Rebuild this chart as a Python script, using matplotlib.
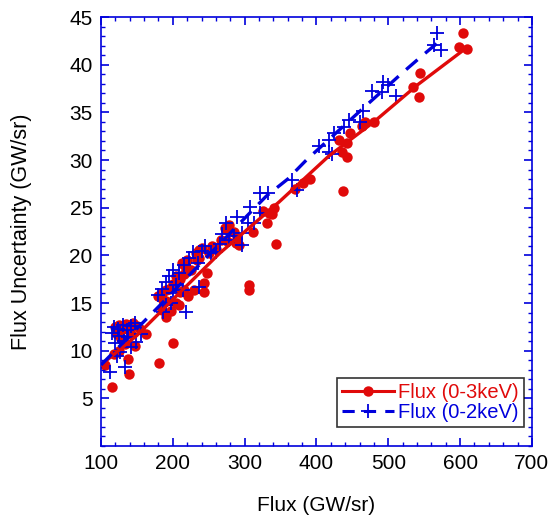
import matplotlib.pyplot as plt
from matplotlib.lines import Line2D

plt.rcParams['font.family'] = ['Liberation Sans', 'DejaVu Sans']

# Flux (0-3keV): flux vs uncertainty, red circles
flux3 = [105, 115, 139, 138, 147, 163, 181, 200,
         120, 125, 130, 135, 140, 145, 150, 122, 128, 133, 125, 118, 142, 155,
         180, 185, 190, 195, 200, 205, 210, 215, 221, 216, 220, 225, 230, 237,
         232, 240, 244, 244, 248, 250, 255, 190, 185, 198, 210, 215,
         237, 234, 213, 205, 191, 186, 209,
         306, 306, 267, 272, 278, 285, 290, 292, 312, 331, 338, 341, 325, 343,
         260, 275, 334, 288, 274, 370,
         381, 391, 432, 436, 442, 443, 447, 463, 467, 480, 437,
         534, 544, 543, 599, 604, 609]
unc3 = [8.5, 6.2, 7.6, 9.1, 10.5, 11.7, 8.7, 10.8,
        12.5, 12.7, 12.3, 12.8, 12.5, 12.9, 12.6, 11.8, 11.2, 10.7, 10.0, 9.6, 11.8, 12.3,
        15.7, 16.0, 15.2, 16.5, 17.0, 15.0, 17.5, 18.0, 15.7, 19.0, 19.5, 18.5, 16.4, 19.7,
        20.2, 20.8, 17.1, 16.2, 18.1, 20.2, 21.0, 13.5, 14.3, 14.2, 16.2, 16.4,
        20.6, 19.5, 19.2, 17.8, 16.4, 15.3, 14.8,
        16.9, 16.4, 21.6, 22.9, 23.2, 22.5, 21.8, 21.1, 22.4, 23.4, 24.3, 25.0, 24.6, 21.2,
        20.7, 21.5, 24.4, 21.3, 22.8, 27.0,
        27.6, 28.0, 32.1, 30.8, 31.8, 30.3, 32.8, 33.6, 34.0, 34.0, 26.7,
        37.7, 39.1, 36.6, 41.9, 43.3, 41.6]

# Flux (0-2keV): blue plus markers
flux2 = [112, 133, 122, 126, 142, 149, 156, 186,
         118, 124, 130, 136, 142, 148, 125, 132, 120, 138, 115,
         198, 209, 214, 219, 223, 235, 237, 253, 297, 180, 185, 190, 195, 200,
         205, 215, 228, 240, 245, 190, 200,
         269, 274, 278, 285, 290, 297, 305, 307, 313, 322, 322, 333, 266, 260,
         366, 373, 417, 417, 421, 424, 438, 445, 461, 465, 477, 491, 511,
         493, 500, 403, 564, 568, 574]
unc2 = [7.8, 8.3, 9.4, 9.9, 10.4, 10.9, 11.7, 14.1,
        12.5, 12.3, 12.7, 12.2, 12.6, 12.9, 11.5, 11.0, 10.8, 11.4, 11.9,
        15.0, 18.1, 16.4, 14.1, 19.7, 19.2, 16.7, 20.2, 21.1, 15.8, 16.5, 17.2, 17.8, 18.5,
        16.9, 19.0, 20.3, 20.5, 21.0, 14.8, 16.0,
        22.2, 23.4, 21.6, 22.0, 24.0, 22.3, 23.4, 25.1, 23.4, 24.4, 26.5, 26.5, 21.2, 20.4,
        27.9, 26.9, 32.1, 30.8, 30.6, 32.8, 33.5, 34.2, 34.0, 35.1, 37.2, 37.1, 36.7,
        38.2, 37.9, 31.5, 42.1, 43.3, 41.5]

# trend curves
fit3_x = [100, 150, 186, 195, 265, 348, 417, 480, 541, 606]
fit3_y = [8.5, 11.6, 14.3, 15.0, 20.2, 25.6, 30.4, 34.0, 37.9, 41.6]
fit2_x = [100, 180, 260, 330, 360, 386, 466, 519, 545, 572]
fit2_y = [8.5, 14.6, 20.8, 26.2, 28.0, 30.0, 35.5, 39.1, 40.8, 42.5]

red = '#e00a0a'
blue = '#0000dc'

fig = plt.figure(figsize=(5.51, 5.22), dpi=100)
ax = fig.add_axes([0.1833, 0.1456, 0.782, 0.8218])

ax.plot(flux3, unc3, 'o', color=red, markersize=7.5, markeredgewidth=0, zorder=1)
ax.plot(flux2, unc2, '+', color=blue, markersize=10, markeredgewidth=1.3, zorder=2)
ax.plot(fit3_x, fit3_y, '-', color=red, linewidth=2.4, zorder=3)
ax.plot(fit2_x, fit2_y, color=blue, linewidth=2.4, linestyle=(0, (4.5, 3)), zorder=4)

ax.set_xlim(100, 700)
ax.set_ylim(0, 45)
ax.set_xticks(range(100, 701, 100))
ax.set_xticks(range(100, 701, 20), minor=True)
ax.set_yticks(range(5, 46, 5))
ax.set_yticks(range(0, 46, 1), minor=True)

for sp in ax.spines.values():
    sp.set_color(blue)
    sp.set_linewidth(1.2)
ax.tick_params(which='both', direction='in', top=True, right=True,
               color=blue, labelsize=15, labelcolor='black', pad=6)
ax.tick_params(which='major', length=6, width=1.2)
ax.tick_params(which='minor', length=3, width=1.0)

ax.set_xlabel('Flux (GW/sr)', fontsize=15, labelpad=16)
ax.set_ylabel('Flux Uncertainty (GW/sr)', fontsize=15.5, labelpad=27)

handles = [
    Line2D([], [], color=red, linewidth=2.2, marker='o', markersize=7.5, markeredgewidth=0),
    Line2D([], [], color=blue, linewidth=2.2, linestyle=(0, (4, 3)), marker='+',
           markersize=10, markeredgewidth=1.3),
]
leg = ax.legend(handles, ['Flux (0-3keV)', 'Flux (0-2keV)'], loc='lower right',
                bbox_to_anchor=(0.982, 0.045), fontsize=14.5, frameon=True, fancybox=False,
                edgecolor='black', handlelength=2.6, handletextpad=0.2,
                labelspacing=0.05, borderpad=0.25, borderaxespad=0)
leg.get_frame().set_linewidth(1.2)
for txt, c in zip(leg.get_texts(), [red, blue]):
    txt.set_color(c)

fig.savefig('out.png', dpi=100)
